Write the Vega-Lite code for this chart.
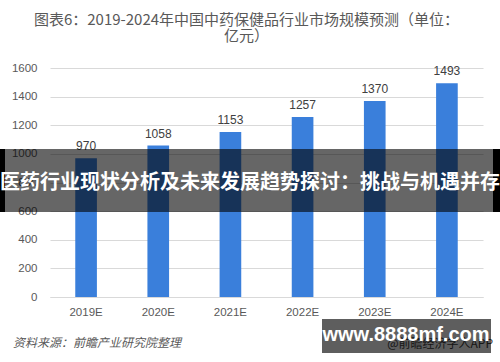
{
  "$schema": "https://vega.github.io/schema/vega-lite/v6.json",
  "width": 433,
  "height": 229,
  "autosize": "none",
  "padding": {"left": 50, "top": 68, "right": 17, "bottom": 65},
  "background": "white",
  "config": {
    "view": {"stroke": null},
    "font": "Noto Sans CJK SC",
    "axisY": {"labelOverlap": false, "domain": false, "ticks": false, "gridColor": "#d9d9d9", "labelColor": "#595959", "labelFont": "Liberation Sans", "labelFontSize": 11.5, "labelPadding": 13, "format": "d", "title": null}
  },
  "title": {
    "text": ["图表6：2019-2024年中国中药保健品行业市场规模预测（单位：", "亿元）"],
    "fontSize": 15,
    "fontWeight": "normal",
    "color": "#595959",
    "font": "Noto Sans CJK SC",
    "anchor": "middle",
    "dx": -20,
    "offset": 18,
    "lineHeight": 16
  },
  "data": {
    "values": [
      {"year": "2019E", "value": 970},
      {"year": "2020E", "value": 1058},
      {"year": "2021E", "value": 1153},
      {"year": "2022E", "value": 1257},
      {"year": "2023E", "value": 1370},
      {"year": "2024E", "value": 1493}
    ]
  },
  "encoding": {
    "x": {
      "field": "year", "type": "nominal", "sort": null,
      "scale": {"paddingInner": 0.7, "paddingOuter": 0.35},
      "axis": {"title": null, "labelAngle": 0, "ticks": false, "domainColor": "#d9d9d9", "labelColor": "#595959", "labelFont": "Liberation Sans", "labelFontSize": 11.5, "labelPadding": 9}
    }
  },
  "layer": [
    {
      "mark": {"type": "bar", "color": "#3a7fdb"},
      "encoding": {
        "y": {
          "field": "value", "type": "quantitative",
          "scale": {"domain": [0, 1600], "nice": false},
          "axis": {"values": [0,200,400,600,800,1000,1200,1400,1600]}
        }
      }
    },
    {
      "mark": {"type": "text", "baseline": "bottom", "dy": -5, "fontSize": 12, "font": "Liberation Sans", "color": "#404040"},
      "encoding": {
        "y": {"field": "value", "type": "quantitative", "axis": {"values": [0,200,400,600,800,1000,1200,1400,1600]}},
        "text": {"field": "value", "type": "quantitative"}
      }
    },
    {
      "data": {"values": [{"label": "banner"}]},
      "mark": {"type": "rect", "color": "black", "opacity": 0.6, "x": -50, "x2": 450, "y": 81, "y2": 144},
      "encoding": {"x": null}
    },
    {
      "data": {"values": [{"label": "left"}]},
      "mark": {"type": "rect", "color": "black", "x": -50, "x2": -45, "y": 81, "y2": 144},
      "encoding": {"x": null}
    },
    {
      "data": {"values": [{"label": "right"}]},
      "mark": {"type": "rect", "color": "black", "x": 443, "x2": 450, "y": 81, "y2": 144},
      "encoding": {"x": null}
    },
    {
      "data": {"values": [{"label": "医药行业现状分析及未来发展趋势探讨：挑战与机遇并存"}]},
      "mark": {"type": "text", "color": "white", "fontSize": 20, "fontWeight": "bold", "font": "Noto Sans CJK SC", "align": "center", "baseline": "middle", "x": 200, "y": 115},
      "encoding": {"x": null, "text": {"field": "label"}}
    },
    {
      "data": {"values": [{"label": "资料来源：前瞻产业研究院整理"}]},
      "mark": {"type": "text", "color": "#595959", "fontSize": 12, "fontStyle": "italic", "font": "Noto Sans CJK SC", "align": "left", "baseline": "middle", "x": -37, "y": 275},
      "encoding": {"x": null, "text": {"field": "label"}}
    },
    {
      "data": {"values": [{"label": "@前瞻经济学人APP"}]},
      "mark": {"type": "text", "color": "#404040", "fontSize": 12, "font": "Noto Sans CJK SC", "align": "right", "baseline": "middle", "x": 443, "y": 276},
      "encoding": {"x": null, "text": {"field": "label"}}
    },
    {
      "data": {"values": [{"label": "box"}]},
      "mark": {"type": "rect", "color": "black", "opacity": 0.63, "x": 272, "x2": 441, "y": 251, "y2": 285},
      "encoding": {"x": null}
    },
    {
      "data": {"values": [{"label": "www.8888mf.com"}]},
      "mark": {"type": "text", "color": "white", "fontSize": 20, "fontWeight": "bold", "font": "Liberation Sans", "align": "center", "baseline": "middle", "x": 356, "y": 267},
      "encoding": {"x": null, "text": {"field": "label"}}
    }
  ]
}
